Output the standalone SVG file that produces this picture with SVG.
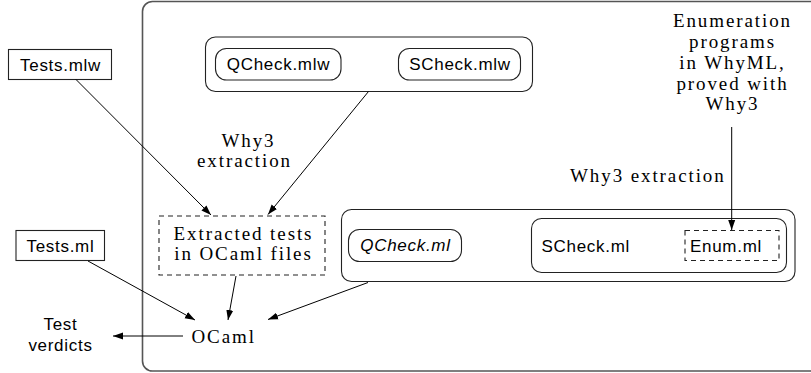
<svg xmlns="http://www.w3.org/2000/svg" width="811" height="373" viewBox="0 0 811 373">
<style>
.sans{font-family:"Liberation Sans","DejaVu Sans",sans-serif;font-size:17px;letter-spacing:0.7px;fill:#000}
.it{font-style:italic}
.serif{font-family:"Liberation Serif","DejaVu Serif",serif;font-size:19px;letter-spacing:1.9px;fill:#000}
.box{fill:#fff;stroke:#222;stroke-width:1.1}
.rbox{fill:none;stroke:#222;stroke-width:1.1}
.dash{fill:none;stroke:#222;stroke-width:1.1;stroke-dasharray:5 4}
.outer{fill:none;stroke:#555;stroke-width:1.6}
.conn{stroke:#000;stroke-width:1;fill:none;marker-end:url(#ah)}
</style>
<defs>
<marker id="ah" markerUnits="userSpaceOnUse" markerWidth="11" markerHeight="8" refX="10" refY="4" orient="auto">
<path d="M0,0.5 L10,4 L0,7.5 z" fill="#000"/>
</marker>
</defs>
<g id="outer"><rect class="outer" x="142.5" y="1.5" width="700" height="369.5" rx="10"/></g>
<g id="tests-mlw">
<rect class="box" x="8.5" y="49.5" width="103" height="30"/>
<text class="sans" x="60.5" y="70.5" text-anchor="middle">Tests.mlw</text>
</g>
<g id="mlw-group">
<rect class="rbox" x="205.5" y="37" width="327" height="54.5" rx="10"/>
</g>
<g id="qcheck-mlw">
<rect class="rbox" x="215.5" y="48.5" width="125.5" height="31.5" rx="11"/>
<text class="sans" x="278.5" y="70" text-anchor="middle">QCheck.mlw</text>
</g>
<g id="scheck-mlw">
<rect class="rbox" x="398.5" y="48.5" width="122" height="31.5" rx="11"/>
<text class="sans" x="460" y="70" text-anchor="middle">SCheck.mlw</text>
</g>
<g id="why3-extraction-1">
<text class="serif" x="248.5" y="147" text-anchor="middle">Why3</text>
<text class="serif" x="244.5" y="167" text-anchor="middle">extraction</text>
</g>
<g id="enumeration">
<text class="serif" x="732.5" y="27" text-anchor="middle">Enumeration</text>
<text class="serif" x="732.5" y="48" text-anchor="middle">programs</text>
<text class="serif" x="732.5" y="68.5" text-anchor="middle">in WhyML,</text>
<text class="serif" x="732.5" y="89.5" text-anchor="middle">proved with</text>
<text class="serif" x="732.5" y="110" text-anchor="middle">Why3</text>
</g>
<g id="why3-extraction-2">
<text class="serif" x="570" y="182">Why3 extraction</text>
</g>
<g id="extracted-tests">
<rect class="dash" x="159" y="216" width="166" height="59"/>
<text class="serif" x="243.5" y="239.5" text-anchor="middle">Extracted tests</text>
<text class="serif" x="243.5" y="260" text-anchor="middle">in OCaml files</text>
</g>
<g id="tests-ml">
<rect class="box" x="16" y="230.5" width="88.5" height="30"/>
<text class="sans" x="60.5" y="251.5" text-anchor="middle">Tests.ml</text>
</g>
<g id="ml-group">
<rect class="rbox" x="341.5" y="209.5" width="453.5" height="72" rx="10"/>
</g>
<g id="qcheck-ml">
<rect class="rbox" x="348.5" y="229.5" width="113" height="32" rx="11"/>
<text class="sans it" x="405.5" y="251" text-anchor="middle">QCheck.ml</text>
</g>
<g id="scheck-ml">
<rect class="rbox" x="531.5" y="218.5" width="255" height="54" rx="10"/>
<text class="sans" x="541.5" y="251.5">SCheck.ml</text>
</g>
<g id="enum-ml">
<rect class="dash" x="685" y="230.5" width="94" height="30"/>
<text class="sans" x="690" y="251.5">Enum.ml</text>
</g>
<g id="ocaml">
<text class="serif" x="191.5" y="342.5">OCaml</text>
</g>
<g id="test-verdicts">
<text class="sans" x="60.5" y="330" text-anchor="middle">Test</text>
<text class="sans" x="60.5" y="351" text-anchor="middle">verdicts</text>
</g>
<g id="connectors">
<line class="conn" x1="76" y1="79.5" x2="211" y2="215"/>
<line class="conn" x1="368.5" y1="91.5" x2="268" y2="214.5"/>
<line class="conn" x1="731.7" y1="127" x2="731.7" y2="230"/>
<line class="conn" x1="88" y1="261" x2="195" y2="320"/>
<line class="conn" x1="236" y1="276" x2="228" y2="320"/>
<line class="conn" x1="368" y1="282.5" x2="268" y2="319.5"/>
<line class="conn" x1="183" y1="336" x2="113" y2="336"/>
</g>
</svg>
